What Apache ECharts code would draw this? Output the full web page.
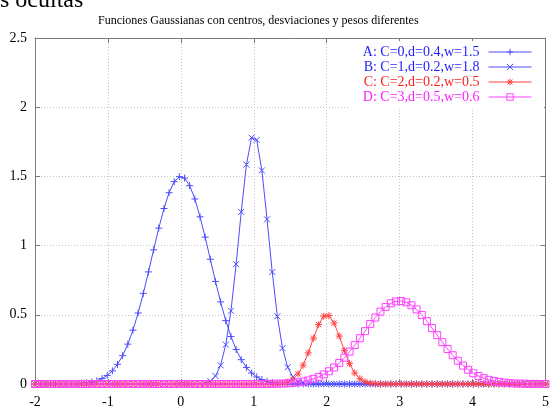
<!DOCTYPE html>
<html>
<head>
<meta charset="utf-8">
<script src="https://cdn.jsdelivr.net/npm/echarts@6/dist/echarts.min.js"></script>
<style>
html,body{margin:0;padding:0;background:#fff;}
#chart{width:552px;height:409px;}
</style>
</head>
<body>
<div id="chart"></div>
<script>
var titleText = 'Funciones Gaussianas con centros, desviaciones y pesos diferentes';
var seriesNames = ['A: C=0,d=0.4,w=1.5', 'B: C=1,d=0.2,w=1.8', 'C: C=2,d=0.2,w=0.5', 'D: C=3,d=0.5,w=0.6'];
var xTicks = [-2, -1, 0, 1, 2, 3, 4, 5];
var yTicks = [0, 0.5, 1, 1.5, 2, 2.5];

var xs = [
 -2.000, -1.929, -1.859, -1.788, -1.717, -1.646, -1.576, -1.505, -1.434, -1.364,
 -1.293, -1.222, -1.152, -1.081, -1.010, -0.939, -0.869, -0.798, -0.727, -0.657,
 -0.586, -0.515, -0.444, -0.374, -0.303, -0.232, -0.162, -0.091, -0.020, 0.051,
 0.121, 0.192, 0.263, 0.333, 0.404, 0.475, 0.545, 0.616, 0.687, 0.758,
 0.828, 0.899, 0.970, 1.040, 1.111, 1.182, 1.253, 1.323, 1.394, 1.465,
 1.535, 1.606, 1.677, 1.747, 1.818, 1.889, 1.960, 2.030, 2.101, 2.172,
 2.242, 2.313, 2.384, 2.455, 2.525, 2.596, 2.667, 2.737, 2.808, 2.879,
 2.949, 3.020, 3.091, 3.162, 3.232, 3.303, 3.374, 3.444, 3.515, 3.586,
 3.657, 3.727, 3.798, 3.869, 3.939, 4.010, 4.081, 4.152, 4.222, 4.293,
 4.364, 4.434, 4.505, 4.576, 4.646, 4.717, 4.788, 4.859, 4.929, 5.000
];

var aVals = [
 0, 0, 0, 0, 0, 0, 0.001, 0.001, 0.002, 0.005,
 0.008, 0.014, 0.024, 0.039, 0.062, 0.095, 0.142, 0.205, 0.288, 0.389,
 0.513, 0.655, 0.810, 0.969, 1.126, 1.268, 1.382, 1.462, 1.498, 1.488,
 1.433, 1.337, 1.208, 1.061, 0.901, 0.741, 0.593, 0.458, 0.343, 0.249,
 0.176, 0.120, 0.079, 0.051, 0.032, 0.019, 0.011, 0.006, 0.003, 0.002,
 0.001, 0, 0, 0, 0, 0, 0, 0, 0, 0,
 0, 0, 0, 0, 0, 0, 0, 0, 0, 0,
 0, 0, 0, 0, 0, 0, 0, 0, 0, 0,
 0, 0, 0, 0, 0, 0, 0, 0, 0, 0,
 0, 0, 0, 0, 0, 0, 0, 0, 0, 0
];

var bVals = [
 0, 0, 0, 0, 0, 0, 0, 0, 0, 0,
 0, 0, 0, 0, 0, 0, 0, 0, 0, 0,
 0, 0, 0, 0, 0, 0, 0, 0, 0, 0,
 0, 0.001, 0.002, 0.007, 0.021, 0.058, 0.135, 0.285, 0.529, 0.866,
 1.244, 1.585, 1.780, 1.764, 1.543, 1.190, 0.809, 0.489, 0.259, 0.121,
 0.050, 0.018, 0.006, 0.002, 0, 0, 0, 0, 0, 0,
 0, 0, 0, 0, 0, 0, 0, 0, 0, 0,
 0, 0, 0, 0, 0, 0, 0, 0, 0, 0,
 0, 0, 0, 0, 0, 0, 0, 0, 0, 0,
 0, 0, 0, 0, 0, 0, 0, 0, 0, 0
];

var cVals = [
 0, 0, 0, 0, 0, 0, 0, 0, 0, 0,
 0, 0, 0, 0, 0, 0, 0, 0, 0, 0,
 0, 0, 0, 0, 0, 0, 0, 0, 0, 0,
 0, 0, 0, 0, 0, 0, 0, 0, 0, 0,
 0, 0, 0, 0, 0, 0, 0, 0.002, 0.005, 0.014,
 0.034, 0.072, 0.136, 0.225, 0.331, 0.429, 0.490, 0.494, 0.440, 0.346,
 0.241, 0.147, 0.079, 0.038, 0.016, 0.006, 0.002, 0.001, 0, 0,
 0, 0, 0, 0, 0, 0, 0, 0, 0, 0,
 0, 0, 0, 0, 0, 0, 0, 0, 0, 0,
 0, 0, 0, 0, 0, 0, 0, 0, 0, 0
];

var dVals = [
 0, 0, 0, 0, 0, 0, 0, 0, 0, 0,
 0, 0, 0, 0, 0, 0, 0, 0, 0, 0,
 0, 0, 0, 0, 0, 0, 0, 0, 0, 0,
 0, 0, 0, 0, 0, 0, 0, 0, 0, 0,
 0, 0, 0, 0, 0, 0.001, 0.001, 0.002, 0.003, 0.005,
 0.008, 0.012, 0.018, 0.026, 0.037, 0.051, 0.069, 0.092, 0.119, 0.152,
 0.190, 0.234, 0.281, 0.331, 0.382, 0.433, 0.480, 0.523, 0.557, 0.583,
 0.597, 0.600, 0.590, 0.569, 0.539, 0.499, 0.454, 0.404, 0.353, 0.302,
 0.253, 0.208, 0.168, 0.133, 0.103, 0.078, 0.058, 0.042, 0.030, 0.021,
 0.015, 0.010, 0.007, 0.004, 0.003, 0.002, 0.001, 0.001, 0, 0
];

var FONT = '"Liberation Serif", "Times New Roman", serif';
var lineCols = ['#4c4cff', '#4c4cff', '#ff4242', '#ff42ff'];
var textCols = ['#1e1eff', '#1e1eff', '#ff1e1e', '#ff1eff'];
var symbols = [
  'path://M0,4H8M4,0V8',
  'path://M0,0L8,8M8,0L0,8',
  'path://M0,4H8M4,0V8M1,1L7,7M7,1L1,7',
  'rect'
];
var symSizes = [7, 6, 7, 7];
var valueSets = [aVals, bVals, cVals, dVals];

var chart = echarts.init(document.getElementById('chart'), null, {renderer: 'canvas'});

var series = seriesNames.map(function (name, i) {
  return {
    name: name,
    type: 'line',
    xAxisIndex: 0,
    yAxisIndex: 0,
    data: xs.map(function (x, k) { return [x, valueSets[i][k]]; }),
    symbol: symbols[i],
    symbolSize: symSizes[i],
    showAllSymbol: true,
    clip: false,
    lineStyle: {color: lineCols[i], width: 1},
    itemStyle: {
      color: i === 3 ? 'rgba(0,0,0,0)' : lineCols[i],
      borderColor: lineCols[i],
      borderWidth: 1
    },
    emphasis: {disabled: true},
    z: 2 + i
  };
});

var axisLineStyle = {color: '#7a7a7a', width: 1};
var gridStyle = {color: '#c4c4c4', width: 1, type: [1, 2]};

chart.setOption({
  animation: false,
  backgroundColor: '#fff',
  textStyle: {fontFamily: FONT},
  title: {
    text: titleText,
    left: 93,
    top: 10,
    textStyle: {fontFamily: FONT, fontSize: 12, fontWeight: 'normal', color: '#000'}
  },
  graphic: [{
    type: 'text',
    left: 0,
    top: -11,
    style: {text: 's ocultas', font: '24px ' + FONT, fill: '#000'}
  }],
  legend: {
    orient: 'vertical',
    right: 8,
    top: 41,
    align: 'right',
    padding: [4, 12, 6, 14],
    backgroundColor: '#fff',
    itemWidth: 43,
    itemHeight: 8,
    itemGap: 1,
    lineStyle: {width: 1},
    itemStyle: {borderWidth: 1},
    textStyle: {fontFamily: FONT, fontSize: 14, padding: [0, 4, 0, 0]},
    data: seriesNames.map(function (n, i) {
      return {name: n, textStyle: {color: textCols[i]}};
    }),
    z: 10
  },
  grid: {left: 35, right: 3, top: 38, bottom: 25, containLabel: false},
  xAxis: [{
    type: 'value',
    min: xTicks[0],
    max: xTicks[xTicks.length - 1],
    interval: 1,
    position: 'bottom',
    axisLine: {show: true, onZero: false, lineStyle: axisLineStyle},
    axisTick: {show: true, inside: true, length: 5, lineStyle: axisLineStyle},
    axisLabel: {fontFamily: FONT, fontSize: 14, color: '#000', margin: 11},
    splitLine: {show: true, lineStyle: gridStyle}
  }, {
    type: 'value',
    min: xTicks[0],
    max: xTicks[xTicks.length - 1],
    interval: 1,
    position: 'top',
    axisLine: {show: true, onZero: false, lineStyle: axisLineStyle},
    axisTick: {show: true, inside: true, length: 5, lineStyle: axisLineStyle},
    axisLabel: {show: false},
    splitLine: {show: false}
  }],
  yAxis: [{
    type: 'value',
    min: yTicks[0],
    max: yTicks[yTicks.length - 1],
    interval: 0.5,
    position: 'left',
    axisLine: {show: true, onZero: false, lineStyle: axisLineStyle},
    axisTick: {show: true, inside: true, length: 5, lineStyle: axisLineStyle},
    axisLabel: {fontFamily: FONT, fontSize: 14, color: '#000', margin: 8},
    splitLine: {show: true, lineStyle: gridStyle}
  }, {
    type: 'value',
    min: yTicks[0],
    max: yTicks[yTicks.length - 1],
    interval: 0.5,
    position: 'right',
    axisLine: {show: true, onZero: false, lineStyle: axisLineStyle},
    axisTick: {show: true, inside: true, length: 5, lineStyle: axisLineStyle},
    axisLabel: {show: false},
    splitLine: {show: false}
  }],
  series: series
});
</script>
</body>
</html>
